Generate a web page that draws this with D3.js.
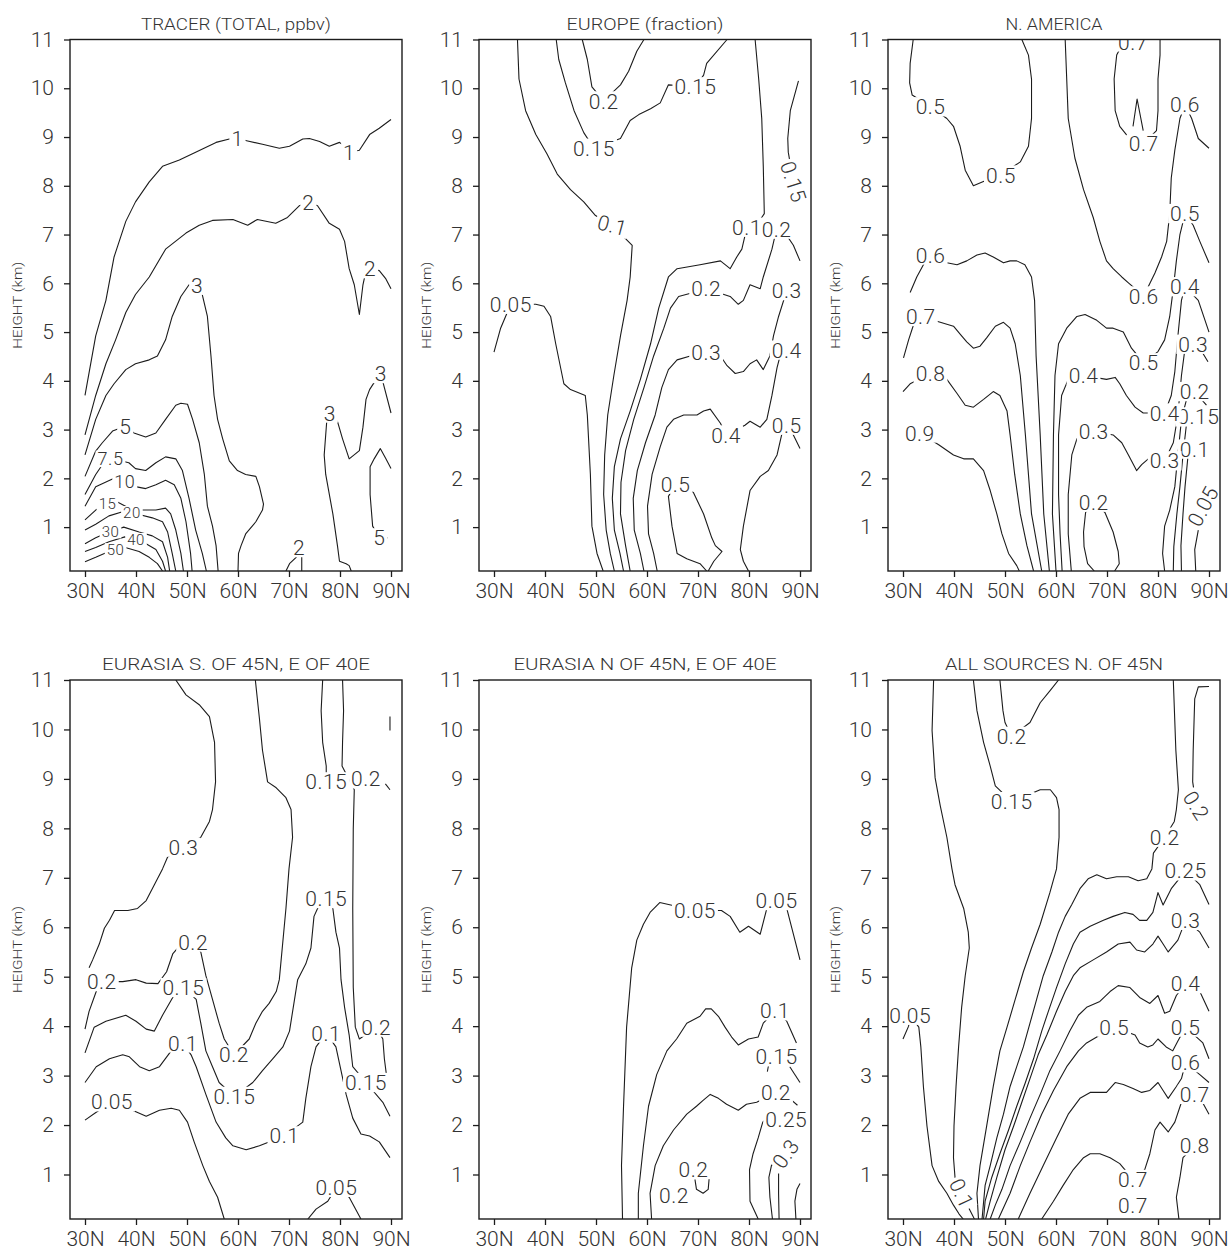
<!DOCTYPE html>
<html><head><meta charset="utf-8">
<script src="https://cdn.jsdelivr.net/npm/d3@7"></script>
<style>
body{margin:0;background:#fff;}
text{font-family:Roboto,"DejaVu Sans",sans-serif;font-weight:300;}
</style></head><body>
<svg id="c" width="1230" height="1252"></svg>
<script>
// ---------- axis data ----------
const latTicks=[30,40,50,60,70,80,90];
const latTickLabels=["30N","40N","50N","60N","70N","80N","90N"];
const heightTicks=[1,2,3,4,5,6,7,8,9,10,11];
const panelTitles=["TRACER (TOTAL, ppbv)","EUROPE (fraction)","N. AMERICA","EURASIA S. OF 45N, E OF 40E","EURASIA N OF 45N, E OF 40E","ALL SOURCES N. OF 45N"];
const yAxisTitle="HEIGHT (km)";

// ---------- contour lines: [latitude, height km] ----------
const tracerLines=[
[[30,3.70],[32.1,4.92],[34.1,5.65],[35.7,6.54],[38,7.27],[39.9,7.67],[42.6,8.08],[45.2,8.40],[48.5,8.53],[51.7,8.69],[55.7,8.89],[58.3,8.96],[59.9,8.97],[61.9,8.92],[64.8,8.85],[68.1,8.77],[70.1,8.81],[72.7,8.96],[74,8.97],[76,8.91],[77.9,8.81],[79.9,8.89],[80.9,8.81],[81.8,8.69],[83.8,8.73],[85.8,9.05],[87.7,9.18],[90,9.36]],
[[30,2.89],[32.1,3.70],[34.1,4.35],[36,4.84],[38,5.40],[39.9,5.77],[42.6,6.13],[45.8,6.70],[49.8,7.03],[52.4,7.19],[55,7.29],[59,7.31],[61.9,7.19],[63.8,7.31],[67.4,7.23],[69.7,7.35],[72,7.59],[73.8,7.66],[75.6,7.59],[77.9,7.23],[79.9,7.11],[80.9,6.86],[81.8,6.30],[82.8,5.97],[83.8,5.36],[84.5,5.97],[85.1,6.26],[85.9,6.30],[87.7,6.26],[89,6.09],[90,5.89]],
[[30,2.48],[32.1,3.21],[34.1,3.70],[35.7,3.94],[38,4.23],[39.9,4.35],[42.6,4.43],[44.2,4.51],[45.8,4.84],[47.1,5.32],[48.8,5.73],[50.4,5.97],[52,5.96],[52.9,5.81],[54,5.32],[54.7,4.51],[55.3,3.70],[56,3.21],[57,2.81],[58.3,2.36],[59.9,2.16],[61.5,2.08],[63.5,2.04],[64.2,1.83],[65,1.47],[64.8,1.35],[63.5,1.11],[61.5,0.86],[60.6,0.62],[60.1,0.46],[60,0.1]],
[[82.2,0.1],[81.8,0.21],[81.2,0.25],[79.9,0.30],[79.5,0.62],[78.6,1.27],[77.2,2.08],[76.9,2.48],[77.4,3.17],[78,3.34],[79.5,3.17],[80.5,2.81],[81.8,2.40],[83.8,2.57],[84.5,3.05],[85.1,3.62],[85.8,3.82],[87.1,4.03],[88,4.15],[88.7,3.86],[90,3.34]],
[[87.7,0.78],[86.4,1.02],[85.9,1.67],[85.9,2.24],[86.7,2.40],[87.9,2.61],[89,2.40],[90,2.20]],
[[87.7,0.78],[89.3,0.78]],
[[69.4,0.1],[70.1,0.25],[71.4,0.38],[72,0.58],[72.5,0.38],[72.5,0.1]],
[[30,2.04],[32.1,2.56],[33.4,2.73],[35.4,2.97],[37.9,3.07],[39.6,2.93],[41.9,2.85],[43.9,2.93],[45.8,3.21],[47.8,3.50],[48.8,3.54],[50.1,3.52],[51.1,3.21],[52.4,2.73],[53.4,2.08],[54,1.43],[55,1.02],[55.7,0.62],[56.1,0.1]],
[[30,1.67],[32.1,2.08],[33.4,2.28],[35.4,2.40],[38.6,2.32],[39.9,2.20],[41.9,2.16],[43.9,2.32],[45.8,2.44],[47.8,2.40],[49.1,2.16],[50.4,1.59],[51.7,0.94],[53,0.46],[53.8,0.1]],
[[30,1.43],[32.1,1.83],[35.7,2.0],[38.3,1.92],[39.9,1.83],[41.9,1.79],[43.9,1.87],[45.8,1.96],[47.5,1.87],[48.8,1.59],[49.8,1.11],[50.7,0.46],[51,0.1]],
[[30,1.15],[32.1,1.35],[35.7,1.55],[38.6,1.39],[40.6,1.35],[43.9,1.35],[45.8,1.39],[46.8,1.27],[47.8,0.94],[48.8,0.46],[49.3,0.1]],
[[30,0.94],[32.1,1.06],[34.7,1.23],[37.2,1.31],[40.2,1.27],[43.2,1.19],[45.2,1.11],[46.2,0.90],[47.1,0.46],[47.8,0.1]],
[[30,0.66],[32.1,0.78],[34.7,0.90],[37.6,1.0],[40.6,0.90],[43.2,0.82],[45.2,0.70],[46.2,0.38],[46.6,0.1]],
[[30,0.5],[32.1,0.58],[34.7,0.70],[37.8,0.80],[41.3,0.70],[43.9,0.54],[45.2,0.30],[45.8,0.1]],
[[30,0.29],[32.1,0.38],[34.7,0.50],[37.9,0.58],[40.6,0.50],[42.6,0.38],[44.2,0.25],[45.2,0.1]]
];
const tracerLabels=[["1",59.9,8.97],["1",81.8,8.69],["2",73.8,7.66],["2",85.9,6.30],["3",52,5.96],["3",78,3.34],["3",88,4.15],["5",37.9,3.07],["7.5",35.0,2.40],["10",37.8,1.93],["15",34.4,1.48],["20",39.2,1.29],["30",35.0,0.91],["40",40.0,0.74],["50",36.0,0.53],["2",72,0.58],["5",87.7,0.78]];

const europeLines=[
[[30,4.59],[31.3,5.08],[32.6,5.40],[33.3,5.57],[38.2,5.57],[39.8,5.53],[41.1,5.32],[42.1,4.76],[43.7,3.94],[45,3.82],[47.9,3.70],[48.3,3.30],[48.9,2.08],[49.2,1.02],[50.2,0.46],[51.4,0.1]],
[[34.6,11],[34.9,10.19],[36.2,9.54],[38.2,9.05],[40.4,8.65],[42.4,8.24],[45,7.92],[47.6,7.67],[49.9,7.39],[53.2,7.19],[57.1,6.78],[56.7,6.13],[56.1,5.65],[54.8,4.92],[53.5,4.11],[52.3,3.30],[51.7,2.48],[51.5,1.67],[52.0,0.94],[52.8,0.46],[53.6,0.1]],
[[81.2,11],[81.9,10.19],[82.5,9.38],[82.8,8.40],[83,7.43],[81.5,7.19],[79.6,7.15],[78.6,6.70],[77.6,6.54],[76.3,6.30],[74.4,6.46],[70.4,6.38],[65.9,6.30],[64.2,6.13],[62.3,5.49],[60.7,4.76],[58.7,4.03],[56.7,3.38],[54.8,2.81],[53.6,2.24],[53.2,1.59],[53.6,0.94],[54.7,0.46],[55.4,0.1]],
[[75.7,11],[71.7,10.51],[71.1,10.27],[69.5,10.03],[64.2,10.07],[62.6,9.70],[60.7,9.58],[58.4,9.46],[56.7,9.34],[54.8,8.97],[49.6,8.77],[47.6,9.09],[45.7,9.54],[44,10.11],[42.7,10.59],[42.2,11]],
[[47.3,11],[48.3,10.59],[49.2,10.03],[51.5,9.74],[54.8,10.07],[56.4,10.35],[58,10.76],[59.4,11]],
[[89.7,10.15],[88.1,9.54],[87.6,8.97],[87.7,8.69],[88.7,8.08]],
[[90,6.46],[88.7,6.78],[87.1,7.03],[85.4,7.11],[84.5,6.70],[82.8,6.13],[82.2,5.89],[80.2,5.97],[78.9,5.65],[77.9,5.57],[76.3,5.73],[71.6,5.89],[69.1,5.81],[66.2,5.73],[64.6,5.49],[63.3,5.08],[61.3,4.51],[59.4,3.86],[57.4,3.21],[55.8,2.57],[54.9,1.92],[54.8,1.27],[55.8,0.62],[56.7,0.1]],
[[87.4,5.85],[85.8,5.32],[84.8,4.92],[84.1,4.51],[82.8,4.23],[81.5,4.43],[80.2,4.35],[78.9,4.19],[77.3,4.15],[75.7,4.31],[74.4,4.51],[71.6,4.59],[68.5,4.51],[65.9,4.43],[64.2,4.23],[62.9,3.86],[61.6,3.30],[59.7,2.73],[58.1,2.16],[57.3,1.59],[57.5,0.94],[58.7,0.46],[59.4,0.1]],
[[87.4,4.63],[86.1,4.51],[85.5,4.27],[84.5,3.70],[83.5,3.21],[82.2,3.05],[80.2,3.17],[79.2,3.09],[75.5,2.89],[74.4,3.13],[72.4,3.42],[71.1,3.38],[69.8,3.30],[67.2,3.30],[65.2,3.21],[63.9,3.05],[62.6,2.65],[61.0,2.08],[60.1,1.43],[60.3,0.86],[61.3,0.46],[62.0,0.1]],
[[90,2.61],[88.7,2.89],[87.4,3.09],[86.4,2.89],[85.5,2.48],[83.8,2.16],[82.2,2.04],[80.2,1.75],[78.9,1.02],[78.3,0.54],[78.9,0.30],[79.9,0.1]],
[[71.7,0.1],[70.4,0.25],[67.8,0.35],[65.9,0.46],[64.9,1.02],[64.2,1.63],[65.6,1.88],[69.1,1.71],[71.1,1.27],[72.7,0.78],[73.4,0.62],[74.7,0.50],[73.1,0.30],[72,0.1]]
];
const europeLabels=[["0.05",33.3,5.57],["0.1",53.2,7.19,15],["0.2",51.5,9.74],["0.15",69.5,10.03],["0.15",49.6,8.77],["0.15",88.7,8.08,72],["0.1",79.6,7.15],["0.2",85.4,7.11],["0.2",71.6,5.89],["0.3",87.4,5.85],["0.3",71.6,4.59],["0.4",87.4,4.63],["0.4",75.5,2.89],["0.5",87.4,3.09],["0.5",65.6,1.88]];

const namericaLines=[
[[32,11],[31.4,10.51],[31.3,10.11],[31.8,9.86],[35.4,9.62],[38.6,9.38],[39.9,9.22],[41.2,8.81],[42.2,8.32],[43.8,8.0],[46,8.1],[49.2,8.22],[53,8.49],[54.6,8.81],[55.2,9.38],[55.2,10.19],[54.6,10.68],[53.3,11]],
[[61.8,11],[62.1,10.19],[62.4,9.38],[63.7,8.57],[65.4,7.92],[67.3,7.35],[68.6,6.86],[69.9,6.46],[71.2,6.30],[72.9,6.13],[74.2,6.01],[77.2,5.74],[79.4,6.21],[80.7,6.54],[81.7,6.86],[82.3,7.43],[82.6,8.16],[83.3,8.73],[84.3,9.38],[85.3,9.66],[86.6,9.38],[87.9,8.97],[90,8.77]],
[[90,6.42],[88.2,6.86],[86.9,7.19],[85.3,7.43],[84.3,7.0],[83.6,6.46],[83,5.89],[82.3,5.32],[81.3,4.84],[80,4.6],[77.2,4.37],[74.8,4.67],[73.2,5.0],[71.2,5.08],[69.9,5.08],[68,5.24],[65.7,5.36],[64.1,5.32],[62.1,5.08],[60.5,4.76],[59.8,4.11],[59.5,2.89],[59.3,1.27],[60.0,0.1]],
[[90,5.0],[87.9,5.65],[85.3,5.93],[84.6,5.65],[83.9,4.92],[83.3,4.19],[82.6,3.70],[81.3,3.34],[77.1,3.34],[75.5,3.46],[73.8,3.70],[72.5,3.94],[71.6,4.07],[69.9,4.03],[65.4,4.11],[62.4,4.03],[61.1,3.70],[60.5,2.89],[60.5,1.67],[60.8,0.86],[61.2,0.1]],
[[89.8,4.39],[88.2,4.67],[86.9,4.75],[85.3,4.67],[84.6,4.11],[83.9,3.30],[83,2.73],[81.3,2.36],[78.1,2.40],[76.8,2.28],[75.8,2.16],[74.2,2.48],[72.9,2.73],[71.2,2.89],[67.4,2.97],[64.1,2.81],[63.1,2.48],[62.4,1.67],[62.4,0.86],[63.0,0.1]],
[[89.5,3.5],[87.2,3.78],[85.6,3.62],[84.6,3.21],[83.9,2.48],[83.3,1.83],[82.3,1.35],[81.3,1.02],[80.9,0.46],[81.3,0.1]],
[[85.6,3.13],[84.9,2.48],[84.3,1.83],[83.7,1.27],[83.1,0.6],[83,0.1]],
[[85.9,2.48],[85.3,1.83],[84.9,1.27],[84.5,0.62],[84.6,0.1]],
[[87.9,0.94],[87.2,0.54],[87.4,0.1]],
[[31.4,5.81],[32.7,6.13],[34,6.38],[35.4,6.58],[38.6,6.42],[40.6,6.38],[42.5,6.46],[44.5,6.58],[46.1,6.62],[47.7,6.54],[49.7,6.42],[51,6.46],[52.3,6.46],[53.9,6.38],[55.2,6.13],[55.8,5.65],[56.1,4.51],[56.9,2.89],[57.6,1.27],[58.7,0.1]],
[[30.1,4.47],[31.1,4.84],[32.1,5.16],[33.5,5.32],[37.3,5.20],[39.9,5.12],[41.2,4.96],[42.5,4.80],[43.8,4.67],[45.1,4.71],[46.4,4.88],[48.1,5.12],[49.7,5.20],[51,5.08],[52,4.76],[53,4.11],[54,2.89],[55.2,1.27],[57.2,0.1]],
[[30,3.78],[31.4,3.94],[35.4,4.15],[38.6,4.03],[40.6,3.74],[42.2,3.50],[43.8,3.46],[45.8,3.62],[47.7,3.78],[49,3.70],[50.4,3.38],[51,2.89],[51.9,2.08],[53,1.27],[54.3,0.62],[55.6,0.1]],
[[30.1,2.81],[33.3,2.93],[37,2.69],[39.9,2.48],[41.9,2.40],[43.8,2.40],[45.8,2.16],[47.1,1.75],[48.4,1.27],[49.4,0.86],[50.7,0.46],[52.3,0.21],[52.8,0.1]],
[[73,10.9],[71.9,10.68],[71.4,10.19],[71.6,9.54],[72.5,9.22],[73.8,9.05],[77.2,8.87],[79.7,9.13],[80,9.54],[80,10.19],[80.4,10.68],[80.4,11]],
[[75.1,9.22],[75.9,9.78],[77.1,9.13]],
[[67.5,0.1],[66.2,0.25],[65.5,0.6],[65.4,0.9],[65.8,1.3],[67.4,1.51],[69.6,1.3],[71.2,0.9],[72.2,0.5],[72.4,0.25],[71.5,0.1]]
];
const namericaLabels=[["0.5",35.4,9.62],["0.5",49.2,8.22],["0.6",77.2,5.74],["0.6",85.3,9.66],["0.5",85.3,7.43],["0.4",85.3,5.93],["0.3",86.9,4.75],["0.2",87.2,3.78],["0.15",87.9,3.26],["0.1",87.2,2.6],["0.4",81.3,3.34],["0.3",81.3,2.36],["0.6",35.4,6.58],["0.7",33.5,5.32],["0.8",35.4,4.15],["0.9",33.3,2.93],["0.4",65.4,4.11],["0.5",77.2,4.37],["0.3",67.4,2.97],["0.2",67.4,1.51],["0.7",77.2,8.87],["0.7",75.1,10.95],["0.05",88.8,1.43,-62]];

const eurasiaSLines=[
[[47.8,11],[49.8,10.70],[52.4,10.50],[54.4,10.26],[55.4,9.74],[55.6,8.94],[55.0,8.38],[54.4,8.14],[52.7,7.82],[49.3,7.62],[46.2,7.42],[45.2,7.18],[43.6,6.86],[42,6.54],[40.3,6.38],[38.4,6.34],[35.8,6.34],[34.8,6.14],[33.8,5.98],[32.8,5.66],[31.5,5.34],[30.8,5.18]],
[[30,3.94],[30.8,4.30],[32.2,4.70],[33.3,4.90],[37.4,4.90],[40,4.94],[42,4.87],[44.3,4.86],[46.0,5.10],[47.2,5.46],[48.5,5.62],[51.2,5.70],[52.7,5.50],[53.7,5.02],[55,4.54],[56.3,4.06],[57.3,3.74],[59.2,3.42],[62.2,3.74],[63.5,4.06],[64.8,4.30],[66.1,4.46],[67.5,4.70],[68.1,4.94],[69.4,6.38],[70,7.18],[70.7,7.82],[70.4,8.38],[69.4,8.62],[67.5,8.82],[65.8,8.94],[64.8,9.58],[64.2,10.22],[63.4,11]],
[[30,3.46],[31.8,3.98],[34.1,4.10],[38,4.22],[40,4.10],[42,3.94],[43.6,3.90],[45.2,4.22],[47.2,4.58],[49.3,4.78],[51.8,4.54],[52.7,4.06],[53.7,3.50],[55,3.18],[56.3,2.86],[59.3,2.58],[62.9,2.86],[64.8,3.10],[66.8,3.34],[68.8,3.58],[70.1,3.90],[71.7,4.94],[73.3,5.26],[74.3,5.58],[74.9,6.22],[75.6,6.38],[77.3,6.58],[78.6,6.38],[79.2,5.90],[79.9,5.58],[80.2,4.94],[80.9,4.38],[81.8,3.82],[82.5,3.18],[85.1,2.86],[88.4,2.46],[89.8,2.18]],
[[30,2.86],[32.2,3.18],[34.8,3.34],[37.4,3.42],[38.7,3.38],[40.7,3.18],[42.6,3.10],[44.6,3.18],[46.9,3.50],[49.2,3.66],[50.8,3.42],[51.8,3.18],[53.7,2.62],[55.7,2.06],[57.6,1.74],[59,1.58],[61.6,1.50],[64.2,1.58],[69.1,1.78],[72.7,2.06],[73.3,2.54],[74.3,3.18],[75.3,3.58],[77.3,3.86],[79.2,3.58],[80.2,3.10],[81.2,2.62],[82.5,2.14],[84.1,1.82],[85.8,1.78],[87.7,1.66],[89.8,1.34]],
[[30,2.10],[32.2,2.26],[35.3,2.47],[39.3,2.30],[42,2.18],[44.6,2.30],[46.9,2.34],[48.5,2.30],[50.1,2.06],[51.4,1.66],[53.1,1.18],[54.4,0.86],[56,0.54],[57.3,0.1]],
[[73.7,0.1],[75.3,0.30],[77.6,0.46],[79.3,0.74],[81.8,0.54],[84.1,0.1]],
[[76.6,11],[76.3,10.38],[76.6,9.74],[77.3,9.26],[77.3,8.94]],
[[80.5,11],[80.7,10.38],[80.5,9.74],[80.4,9.26],[82.8,8.78],[82.6,7.98],[82.5,6.38],[82.6,4.78],[83,3.98],[83.8,3.74],[87.1,3.98],[88.4,3.74],[88.7,3.34],[89.2,2.94]],
[[88.9,8.9],[89.8,8.78]],
[[89.8,10.26],[89.8,9.98]]
];
const eurasiaSLabels=[["0.3",49.3,7.62],["0.2",33.3,4.90],["0.2",51.2,5.70],["0.15",49.3,4.78],["0.2",59.2,3.42],["0.1",49.2,3.66],["0.15",59.3,2.58],["0.05",35.3,2.47],["0.1",69.1,1.78],["0.15",77.3,6.58],["0.1",77.3,3.86],["0.2",87.1,3.98],["0.15",85.1,2.86],["0.05",79.3,0.74],["0.15",77.3,8.94],["0.2",85.1,9.0]];

const eurasiaNLines=[
[[55.2,0.1],[55,1.18],[55.4,2.38],[56,3.98],[57,5.18],[58,5.74],[59.3,6.06],[60.6,6.3],[62.5,6.5],[69.4,6.34],[74.6,6.34],[76.3,6.22],[78.2,5.90],[79.9,6.02],[82.2,5.86],[83.5,6.38],[85.4,6.54],[87.4,6.38],[88.4,5.98],[90,5.34]],
[[58.3,0.1],[58.3,0.62],[59.3,1.58],[60.3,2.38],[61.9,3.02],[63.9,3.50],[65.8,3.74],[67.8,4.06],[70.4,4.2],[71.5,4.35],[72.6,4.35],[74,4.2],[75.3,3.98],[76.6,3.78],[77.9,3.62],[79.9,3.74],[81.8,3.78],[82.8,4.06],[85.1,4.31],[87.4,4.10],[89.3,3.66]],
[[60.9,0.1],[60.6,0.62],[61.6,1.18],[63.2,1.58],[65.2,1.90],[67.8,2.22],[69.7,2.38],[71,2.50],[72.4,2.62],[74,2.54],[75.6,2.42],[77.9,2.30],[79.5,2.42],[81.5,2.46],[85.3,2.66],[88.4,2.5],[89.5,2.4]],
[[83.6,3.08],[84.0,3.3]],
[[88.0,3.18],[90,2.86]],
[[81.8,0.1],[80.2,0.46],[80.1,1.10],[80.8,1.42],[81.8,1.74],[82.7,2.06],[83.3,2.12]],
[[84.6,0.1],[84.1,0.54],[83.9,0.94],[84.4,1.18],[85.5,1.35]],
[[85.9,0.1],[85.8,0.62],[85.8,1.02]],
[[89.2,0.1],[89,0.46],[89.4,0.70],[90,0.82]],
[[69.4,0.90],[69.7,0.70],[71,0.62],[72,0.70],[72.2,0.94]]
];
const eurasiaNLabels=[["0.05",69.4,6.34],["0.05",85.4,6.54],["0.1",85.1,4.31],["0.15",85.4,3.38],["0.2",85.3,2.66],["0.25",87.3,2.12],["0.3",87.2,1.42,-55],["0.2",69.1,1.10],["0.2",65.3,0.58]];

const allSourcesLines=[
[[30,3.74],[31.1,4.0],[31.4,4.22],[33.1,3.98],[33.5,3.58],[34,2.78],[34.7,1.98],[35.7,1.18],[37,0.86],[38.6,0.62],[39.9,0.38],[41,0.2],[41.8,0.1]],
[[36,11],[35.7,9.98],[36.3,9.02],[37.3,8.46],[38.6,7.82],[39.6,7.18],[40.2,6.86],[41.9,6.38],[42.8,5.90],[43,5.58],[42.2,5.02],[41.5,4.38],[40.9,3.58],[40.4,2.78],[40,1.98],[39.9,1.34],[40.2,0.94],[41.5,0.62],[43,0.3],[44,0.1]],
[[43.8,11],[44.5,10.38],[45.8,9.74],[47.1,9.26],[48.1,8.86],[51.3,8.54],[56.9,8.78],[58.9,8.78],[60.1,8.62],[60.6,8.38],[60.6,7.82],[60.1,7.18],[58.8,6.70],[56.9,6.06],[55.2,5.58],[53.6,5.10],[52,4.54],[50.4,3.98],[49,3.50],[47.7,2.78],[46.4,1.98],[45.1,1.18],[44.5,0.62],[44.8,0.1]],
[[49,11],[49.6,10.38],[50,10.14],[51.3,9.86],[54.9,10.14],[56.9,10.54],[58.8,10.78],[60.5,11]],
[[83,11],[83.5,9.58],[84,8.78],[83.6,8.38],[83.2,8.14],[81.3,7.82],[79.1,7.50],[78.8,7.18],[77.8,6.98],[76.1,6.94],[74.2,7.02],[71.9,7.02],[69.9,6.98],[68,7.06],[66.3,6.98],[64.7,6.78],[63.1,6.46],[61.8,6.22],[60.5,5.90],[59.2,5.50],[57.5,5.02],[56.2,4.54],[54.9,4.06],[53.6,3.58],[52.3,3.18],[51,2.78],[49.7,2.22],[48.4,1.74],[47.1,1.18],[46.1,0.78],[45.5,0.1]],
[[90,10.87],[87.9,10.86],[87.2,10.62],[86.9,9.58],[86.8,8.94],[87.5,8.46]],
[[90,6.46],[88.2,6.86],[85.4,7.14],[82.6,6.78],[81,6.45],[80,6.7],[79,6.30],[77.8,6.14],[76.4,6.14],[75.1,6.26],[73.5,6.30],[71.2,6.22],[69.3,6.14],[66.7,6.02],[64.7,5.90],[63.4,5.66],[61.8,5.26],[60.1,4.78],[58.5,4.30],[57.2,3.90],[55.6,3.34],[54,2.86],[52.3,2.38],[50.7,1.90],[49,1.42],[47.4,0.94],[46.1,0.46],[45.8,0.1]],
[[90,5.58],[88.2,5.90],[85.4,6.14],[83.9,5.74],[82,5.50],[81,5.66],[80,5.82],[79,5.66],[77.4,5.50],[75.8,5.54],[74.5,5.70],[72.2,5.66],[69.9,5.50],[67.3,5.34],[64.7,5.18],[63.4,5.02],[61.8,4.70],[60.1,4.30],[58.2,3.82],[56.5,3.42],[54.9,2.94],[53.3,2.46],[51.7,1.98],[50,1.50],[48.4,0.94],[47.1,0.46],[46.2,0.1]],
[[90,4.30],[88.2,4.70],[85.4,4.86],[83.6,4.62],[82.3,4.30],[81.3,4.26],[80,4.62],[78.4,4.46],[76.4,4.58],[74.5,4.78],[72.2,4.82],[70.6,4.70],[68.6,4.50],[66,4.38],[64.4,4.22],[62.7,3.90],[60.8,3.50],[58.8,3.10],[56.9,2.62],[54.9,2.14],[53,1.66],[51,1.18],[49.4,0.70],[48.1,0.38],[47.1,0.1]],
[[90,3.34],[88.8,3.66],[85.4,3.98],[83.9,3.70],[82.9,3.50],[81.6,3.58],[80,3.74],[79,3.62],[78,3.58],[76.4,3.66],[75.5,3.82],[71.4,3.98],[68,3.78],[66,3.66],[64.4,3.50],[62.1,3.18],[59.5,2.70],[57.2,2.22],[54.9,1.66],[53,1.18],[51,0.62],[48.7,0.1]],
[[90,2.86],[88.2,3.02],[85.4,3.26],[84.6,2.94],[83.6,2.78],[82,2.54],[81,2.70],[80,2.86],[78.4,2.70],[76.8,2.66],[75.1,2.74],[73.2,2.82],[71.6,2.86],[69.9,2.66],[66.7,2.66],[64.7,2.54],[62.4,2.22],[60.1,1.74],[57.5,1.18],[54.9,0.62],[52.6,0.1]],
[[90,2.22],[88.5,2.5],[87.2,2.62],[84.6,2.46],[83.3,2.06],[82,1.86],[80.4,2.06],[79.4,1.90],[78.4,1.42],[77.4,1.10],[75.1,0.90],[72.5,1.22],[70.6,1.34],[68.6,1.42],[66.7,1.42],[65.4,1.34],[63.4,1.10],[61.4,0.78],[59.5,0.46],[57.2,0.1]],
[[87.2,1.58],[84.9,1.34],[84.3,0.94],[83.6,0.54],[84.1,0.1]]
];
const allSourcesLabels=[["0.05",31.4,4.22],["0.1",41.5,0.62,65],["0.2",51.3,9.86],["0.15",51.3,8.54],["0.2",81.3,7.82],["0.2",87.5,8.46,58],["0.25",85.4,7.14],["0.3",85.4,6.14],["0.4",85.4,4.86],["0.5",85.4,3.98],["0.5",71.4,3.98],["0.6",85.4,3.26],["0.7",87.2,2.62],["0.8",87.2,1.58],["0.7",75.1,0.9],["0.7",75.1,0.38]];

// ---------- layout ----------
const colLeft=[70,479,888], PW=332;
const rowBox=[{top:39.5,bottom:571},{top:680,bottom:1219}];
const titleWidth=[190,157,97,268,263,218];
const panels=[
 {lines:tracerLines,labels:tracerLabels,col:0,row:0},
 {lines:europeLines,labels:europeLabels,col:1,row:0},
 {lines:namericaLines,labels:namericaLabels,col:2,row:0},
 {lines:eurasiaSLines,labels:eurasiaSLabels,col:0,row:1},
 {lines:eurasiaNLines,labels:eurasiaNLabels,col:1,row:1},
 {lines:allSourcesLines,labels:allSourcesLabels,col:2,row:1}
];

const svg=d3.select("#c");
const ink="#1c1c1c", txt="#333";
const FS=21;
// crowded high-value labels near the surface source get a smaller size
const labelSize=(pi,d)=> pi!==0 ? FS : (+d[0]>=15 ? 15 : (+d[0]>=7.5 ? 18 : FS));

panels.forEach((p,i)=>{
  const x0=colLeft[p.col], rb=rowBox[p.row];
  const x=d3.scaleLinear().domain([30,90]).range([x0+15,x0+321]);
  const y=d3.scaleLinear().domain([0.1,11]).range([rb.bottom,rb.top]);
  const g=svg.append("g");
  const cid="clip"+i;
  svg.append("clipPath").attr("id",cid).append("rect")
     .attr("x",x0).attr("y",rb.top).attr("width",PW).attr("height",rb.bottom-rb.top);
  const inner=g.append("g").attr("clip-path",`url(#${cid})`);
  const line=d3.line().x(d=>x(d[0])).y(d=>y(d[1]));
  inner.selectAll("path").data(p.lines).join("path")
     .attr("d",line).attr("fill","none").attr("stroke",ink)
     .attr("stroke-width",1.1).attr("stroke-linejoin","round");
  const lg=inner.selectAll("g.lab").data(p.labels).join("g").attr("class","lab")
     .attr("transform",d=>`translate(${x(d[1])},${y(d[2])}) rotate(${d[3]||0})`);
  lg.each(function(d){
    const fs=labelSize(i,d);
    const gg=d3.select(this);
    const bg=gg.append("rect").attr("fill","#fff");
    const t=gg.append("text").attr("text-anchor","middle").attr("dy","0.36em")
       .attr("font-size",fs).attr("fill",txt).attr("letter-spacing",0.5).text(d[0]);
    const w=t.node().getComputedTextLength();
    bg.attr("x",-w/2-2).attr("y",-0.46*fs).attr("width",w+4).attr("height",0.92*fs);
  });

  // axes
  const xa=g.append("g").attr("transform",`translate(0,${rb.bottom})`)
     .call(d3.axisBottom(x).tickValues(latTicks).tickFormat((d,j)=>latTickLabels[j]).tickSize(6).tickPadding(6));
  const ya=g.append("g").attr("transform",`translate(${x0},0)`)
     .call(d3.axisLeft(y).tickValues(heightTicks).tickFormat(d3.format("d")).tickSize(6).tickPadding(10));
  [xa,ya].forEach(a=>{
    a.select(".domain").remove();
    a.selectAll(".tick line").attr("stroke",ink).attr("stroke-width",1.3);
    a.selectAll(".tick text").attr("font-size",FS).attr("fill",txt)
      .attr("font-family","Roboto, 'DejaVu Sans', sans-serif").attr("font-weight",300);
  });

  // frame
  g.append("rect").attr("x",x0).attr("y",rb.top).attr("width",PW).attr("height",rb.bottom-rb.top)
    .attr("fill","none").attr("stroke",ink).attr("stroke-width",1.4);

  // title
  g.append("text").attr("x",x0+PW/2).attr("y",rb.top-10)
    .attr("text-anchor","middle").attr("font-size",16).attr("fill",txt)
    .attr("textLength",titleWidth[i]).attr("lengthAdjust","spacingAndGlyphs")
    .text(panelTitles[i]);
  // y title
  g.append("text").attr("transform",`translate(${x0-48},${(rb.top+rb.bottom)/2}) rotate(-90)`)
    .attr("text-anchor","middle").attr("font-size",13).attr("fill",txt)
    .attr("textLength",87).attr("lengthAdjust","spacingAndGlyphs")
    .text(yAxisTitle);
});
</script>
</body></html>
